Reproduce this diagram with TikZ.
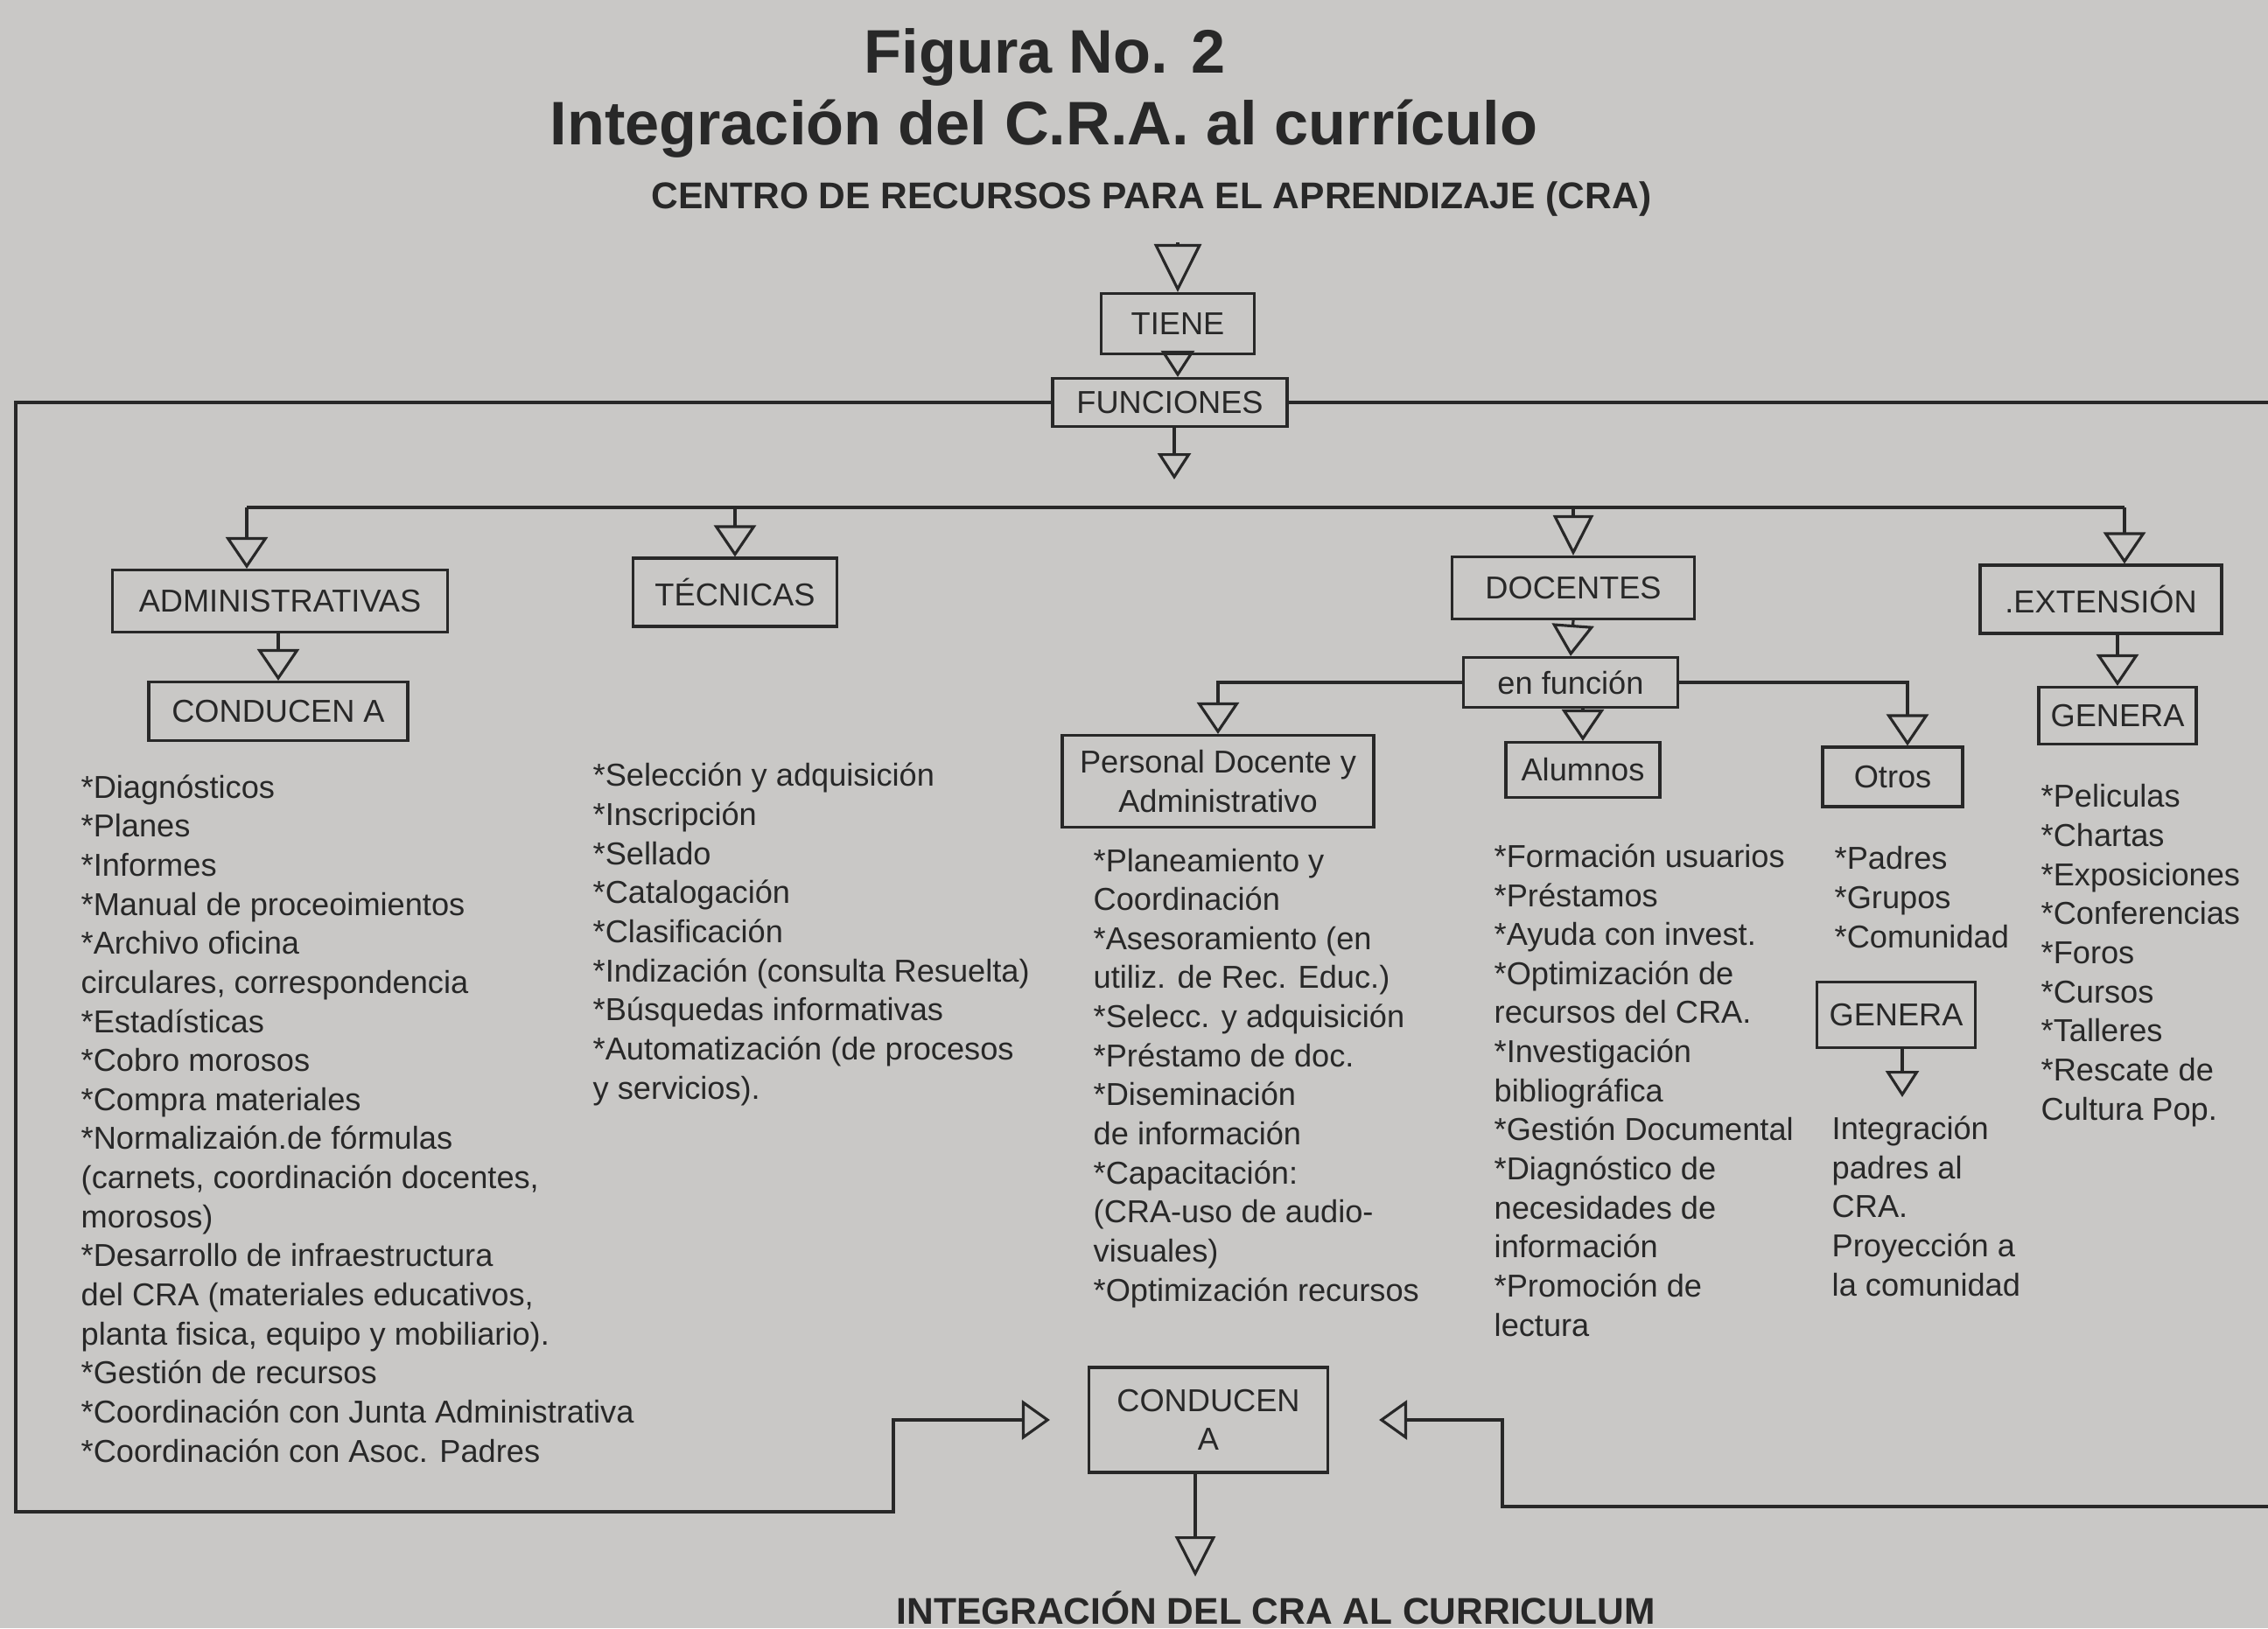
\documentclass[tikz,border=0pt]{standalone}
\usepackage{fontspec}
\setmainfont{Liberation Sans}
\usepackage{xcolor}
\usetikzlibrary{arrows.meta}

\definecolor{paper}{RGB}{201,200,198}
\definecolor{ink}{RGB}{40,40,40}
\newcommand{\diagfont}{\fontsize{10.3}{12.7}\selectfont}
\newcommand{\headfont}{\fontsize{20}{24}\selectfont\bfseries}
\newcommand{\capsfont}{\fontsize{12.1}{14}\selectfont\bfseries}

\begin{document}
\begin{tikzpicture}
% Define styles
\tikzstyle{box}=[rectangle, draw=ink, line width=0.9pt, text=ink, text centered, align=center, font=\diagfont, inner sep=0pt]
\tikzstyle{itemList}=[anchor=base west, align=left, text=ink, font=\diagfont, inner sep=0pt]
\tikzstyle{wire}=[draw=ink, line width=0.9pt]
\tikzstyle{arrow}=[wire, -{Triangle[open, length=0.36cm, width=0.48cm]}]
\tikzstyle{longArrow}=[wire, -{Triangle[open, length=0.46cm, width=0.46cm]}]
\tikzstyle{smallArrow}=[wire, -{Triangle[open, length=0.30cm, width=0.38cm]}]
\tikzstyle{bigArrow}=[wire, -{Triangle[open, length=0.55cm, width=0.54cm]}]
\tikzstyle{sideArrow}=[wire, -{Triangle[open, length=0.32cm, width=0.45cm]}]

% Paper
\useasboundingbox (0,0) rectangle (25.92,-18.61);
\fill[paper] (0,0) rectangle (25.92,-18.61);

% Titles
\node[anchor=base, text=ink, font=\headfont] (fig) at (11.94,-0.83) {Figura No. 2};
\node[anchor=base, text=ink, font=\headfont] (title) at (11.93,-1.65) {Integración del C.R.A. al currículo};
\node[anchor=base, text=ink, font=\capsfont] (centro) at (13.16,-2.38) {CENTRO DE RECURSOS PARA EL APRENDIZAJE (CRA)};
\node[anchor=base, text=ink, font=\capsfont] (curriculum) at (14.58,-18.56) {INTEGRACIÓN DEL CRA AL CURRICULUM};

% Top of the chart
\node[box, minimum width=1.75cm, minimum height=0.69cm] (tiene) at (13.46,-3.70) {TIENE};
\node[box, minimum width=2.68cm, minimum height=0.55cm] (funciones) at (13.37,-4.60) {FUNCIONES};
\coordinate (ctop) at (13.46,-2.77);
\coordinate (fdown) at (13.42,-5.48);
\draw[bigArrow] (ctop) -- (tiene.north);
\draw[smallArrow] (tiene.south) -- (tiene.south |- funciones.north);
\draw[smallArrow] (funciones.south -| fdown) -- (fdown);

% Four kinds of functions
\node[box, minimum width=3.83cm, minimum height=0.71cm] (admin) at (3.20,-6.87) {ADMINISTRATIVAS};
\node[box, minimum width=2.33cm, minimum height=0.78cm] (tecnicas) at (8.40,-6.77) {TÉCNICAS};
\node[box, minimum width=2.77cm, minimum height=0.71cm] (docentes) at (17.98,-6.72) {DOCENTES};
\node[box, minimum width=2.76cm, minimum height=0.78cm] (extension) at (24.01,-6.85) {.EXTENSIÓN};

\coordinate (busL) at (2.82,-5.80);
\coordinate (busR) at (24.28,-5.80);
\draw[wire] (busL) -- (busR);
\draw[arrow] (busL) -- (busL |- admin.north);
\draw[arrow] (busL -| tecnicas.north) -- (tecnicas.north);
\draw[longArrow] (busL -| docentes.north) -- (docentes.north);
\draw[arrow] (busR) -- (busR |- extension.north);

% Administrativas
\node[box, minimum width=2.96cm, minimum height=0.67cm] (conducen) at (3.18,-8.13) {CONDUCEN A};
\draw[arrow] (admin.south -| conducen.north) -- (conducen.north);

% (a list node sits on the baseline of its last line)
\node[itemList] (adminList) at (0.92,-16.71) {*Diagnósticos\\
*Planes\\
*Informes\\
*Manual de proceoimientos\\
*Archivo oficina\\
circulares, correspondencia\\
*Estadísticas\\
*Cobro morosos\\
*Compra materiales\\
*Normalizaión.de fórmulas\\
(carnets, coordinación docentes,\\
morosos)\\
*Desarrollo de infraestructura\\
del CRA (materiales educativos,\\
planta fisica, equipo y mobiliario).\\
*Gestión de recursos\\
*Coordinación con Junta Administrativa\\
*Coordinación con Asoc. Padres};

% Tecnicas
\node[itemList] (tecnicasList) at (6.77,-12.56) {*Selección y adquisición\\
*Inscripción\\
*Sellado\\
*Catalogación\\
*Clasificación\\
*Indización (consulta Resuelta)\\
*Búsquedas informativas\\
*Automatización (de procesos\\
y servicios).};

% Docentes
\node[box, minimum width=2.45cm, minimum height=0.57cm] (enfuncion) at (17.95,-7.80) {en función};
\draw[arrow] (docentes.south) -- (enfuncion.north);

\node[box, minimum width=3.56cm, minimum height=1.05cm] (personal) at (13.92,-8.93) {Personal Docente y\\Administrativo};
\node[box, minimum width=1.76cm, minimum height=0.63cm] (alumnos) at (18.09,-8.80) {Alumnos};
\node[box, minimum width=1.60cm, minimum height=0.68cm] (otros) at (21.63,-8.88) {Otros};
\draw[arrow] (enfuncion.west) -| (personal.north);
\draw[arrow] (enfuncion.south -| alumnos.north) -- (alumnos.north);
\draw[arrow] (enfuncion.east) -| ([xshift=0.17cm]otros.north);

\node[itemList] (personalList) at (12.49,-14.87) {*Planeamiento y\\
Coordinación\\
*Asesoramiento (en\\
utiliz. de Rec. Educ.)\\
*Selecc. y adquisición\\
*Préstamo de doc.\\
*Diseminación\\
de información\\
*Capacitación:\\
(CRA-uso de audio-\\
visuales)\\
*Optimización recursos};

\node[itemList] (alumnosList) at (17.07,-15.27) {*Formación usuarios\\
*Préstamos\\
*Ayuda con invest.\\
*Optimización de\\
recursos del CRA.\\
*Investigación\\
bibliográfica\\
*Gestión Documental\\
*Diagnóstico de\\
necesidades de\\
información\\
*Promoción de\\
lectura};

\node[itemList] (otrosList) at (20.96,-10.83) {*Padres\\
*Grupos\\
*Comunidad};

\node[box, minimum width=1.81cm, minimum height=0.75cm] (generaOtros) at (21.67,-11.60) {GENERA};
\coordinate (gdown) at (21.74,-12.54);
\draw[smallArrow] (generaOtros.south -| gdown) -- (gdown);

\node[itemList] (integracionList) at (20.93,-14.81) {Integración\\
padres al\\
CRA.\\
Proyección a\\
la comunidad};

% Extension
\node[box, minimum width=1.80cm, minimum height=0.65cm] (genera) at (24.20,-8.18) {GENERA};
\draw[arrow] (extension.south -| genera.north) -- (genera.north);

\node[itemList] (generaList) at (23.32,-12.80) {*Peliculas\\
*Chartas\\
*Exposiciones\\
*Conferencias\\
*Foros\\
*Cursos\\
*Talleres\\
*Rescate de\\
Cultura Pop.};

% Bottom of the chart
\node[box, minimum width=2.73cm, minimum height=1.20cm] (conducenB) at (13.81,-16.23) {CONDUCEN\\A};
\coordinate (bdown) at (13.66,-18.02);
\draw[longArrow] (conducenB.south -| bdown) -- (bdown);

% Outer loop
\coordinate (loopL) at (0.18,-17.28);
\coordinate (loopLin) at (10.21,-17.28);
\coordinate (edgeR) at (25.92,-17.22);
\coordinate (loopRin) at (17.17,-17.22);
\draw[sideArrow, shorten >=0.43cm] (funciones.west) -| (loopL) -- (loopLin) |- (conducenB.west);
\draw[wire] (funciones.east) -- (funciones.east -| edgeR);
\draw[sideArrow, shorten >=0.57cm] (edgeR) -- (loopRin) |- (conducenB.east);
\end{tikzpicture}
\end{document}
